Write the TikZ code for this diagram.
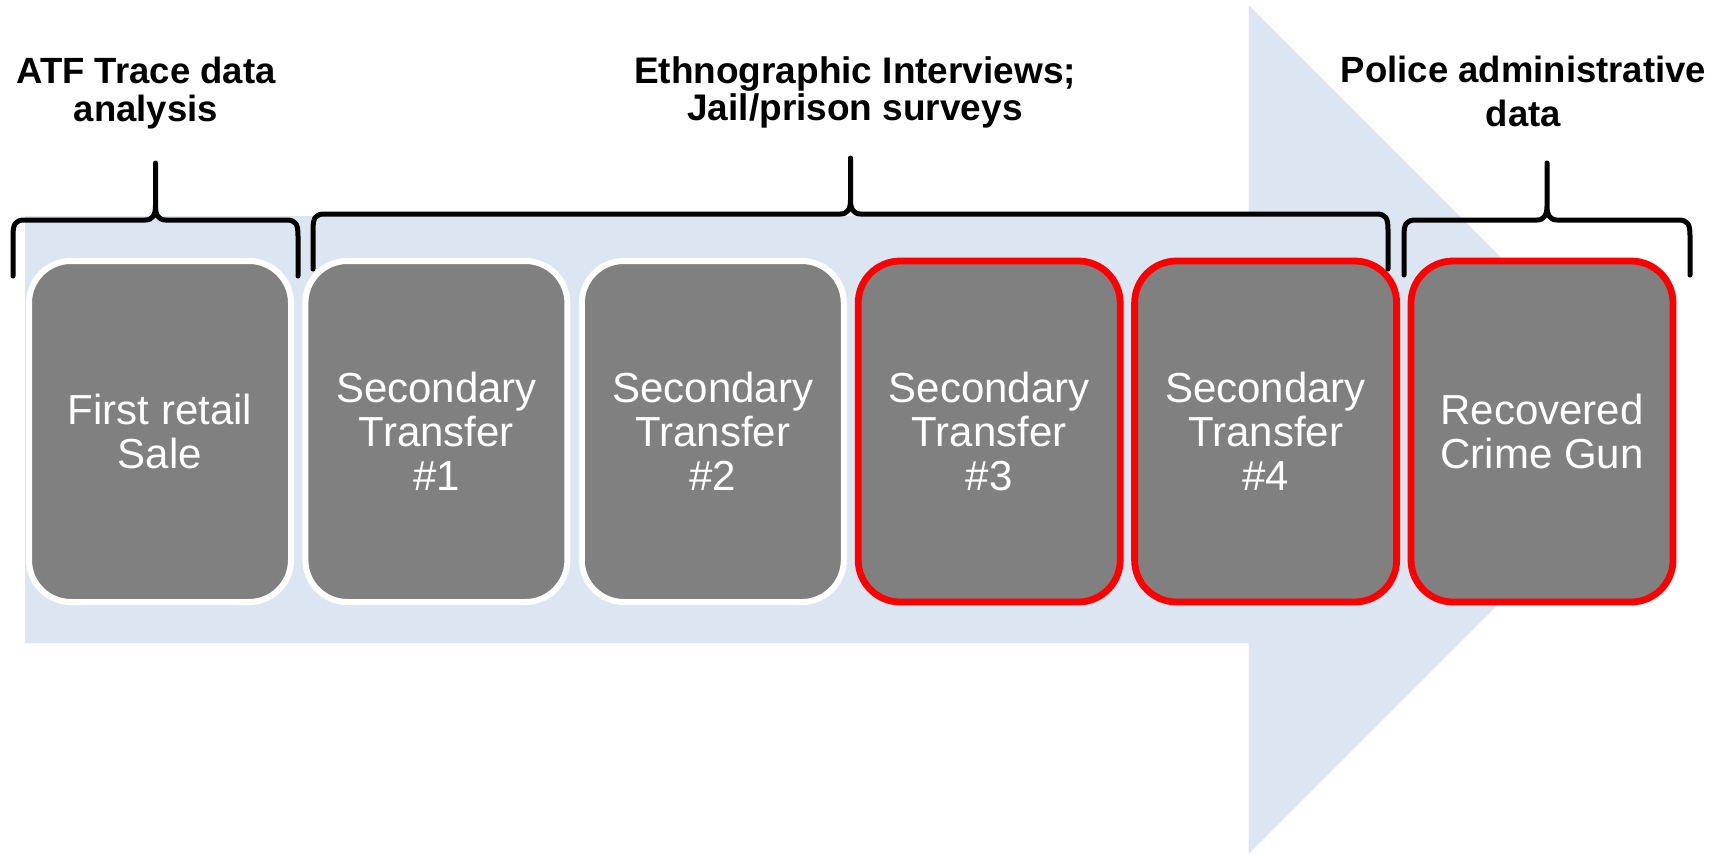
\documentclass[tikz,border=0pt]{standalone}
\usepackage{fontspec}
\setmainfont{Liberation Sans}
\definecolor{shaftblue}{HTML}{DCE6F2}
\definecolor{boxgray}{HTML}{808080}
\definecolor{hlred}{HTML}{FF0000}
\newcommand\mybrc[5]{%
 \pgfmathsetmacro\brcmid{(#1+#2)/2}%
 \draw[bracestyle] (#1,#5) -- (#1,{#3+16}) .. controls (#1,{#3+4}) and ({#1+2},#3) .. ({#1+12},#3)
   -- ({\brcmid-10},#3) .. controls ({\brcmid-3},#3) and (\brcmid,{#3-5}) .. (\brcmid,{#3-14}) -- (\brcmid,#4)
   (\brcmid,{#3-14}) .. controls (\brcmid,{#3-5}) and ({\brcmid+3},#3) .. ({\brcmid+10},#3)
   -- ({#2-12},#3) .. controls ({#2-2},#3) and (#2,{#3+4}) .. (#2,{#3+16}) -- (#2,#5);}
\begin{document}
\begin{tikzpicture}[x=1pt,y=-1pt,
  stage/.style={draw=white, line width=6pt, fill=boxgray, rounded corners=42pt,
    minimum width=262pt, minimum height=341pt, inner sep=0pt, text=white,
    align=center, font=\fontsize{42}{44}\selectfont},
  redstage/.style={stage, draw=hlred, line width=6.8pt},
  heading/.style={align=center, inner sep=0pt, font=\fontsize{36.5}{38.5}\selectfont\bfseries},
  bracestyle/.style={draw=black, line width=5pt, line cap=round, line join=round}]
\useasboundingbox (0,0) rectangle (1726,854);
\fill[shaftblue] (25,216) -- (1248.5,216) -- (1248.5,5) -- (1673,429.5) -- (1248.5,854)
  -- (1248.5,643) -- (25,643) -- cycle;
\node[stage] (s1) at (160,431.5) {First retail\\Sale};
\node[stage] (s2) at (436.4,431.5) {Secondary\\Transfer\\\#1};
\node[stage] (s3) at (712.8,431.5) {Secondary\\Transfer\\\#2};
\node[redstage] (s4) at (989.2,431.5) {Secondary\\Transfer\\\#3};
\node[redstage] (s5) at (1265.6,431.5) {Secondary\\Transfer\\\#4};
\node[redstage] (s6) at (1542,431.5) {Recovered\\Crime Gun};
\node[heading] (h1) at (146,93.3) {ATF Trace data\\analysis};
\node[heading, font=\fontsize{37}{37.5}\selectfont\bfseries] (h2) at (855,92.6) {Ethnographic Interviews;\\Jail/prison surveys};
\node[heading, font=\fontsize{36.5}{44}\selectfont\bfseries] (h3) at (1523.5,91.7) {Police administrative\\data};
\mybrc{13}{298}{220}{163}{276}
\mybrc{313}{1388}{214}{158}{269}
\mybrc{1404}{1690}{220}{163}{275}
\end{tikzpicture}
\end{document}
